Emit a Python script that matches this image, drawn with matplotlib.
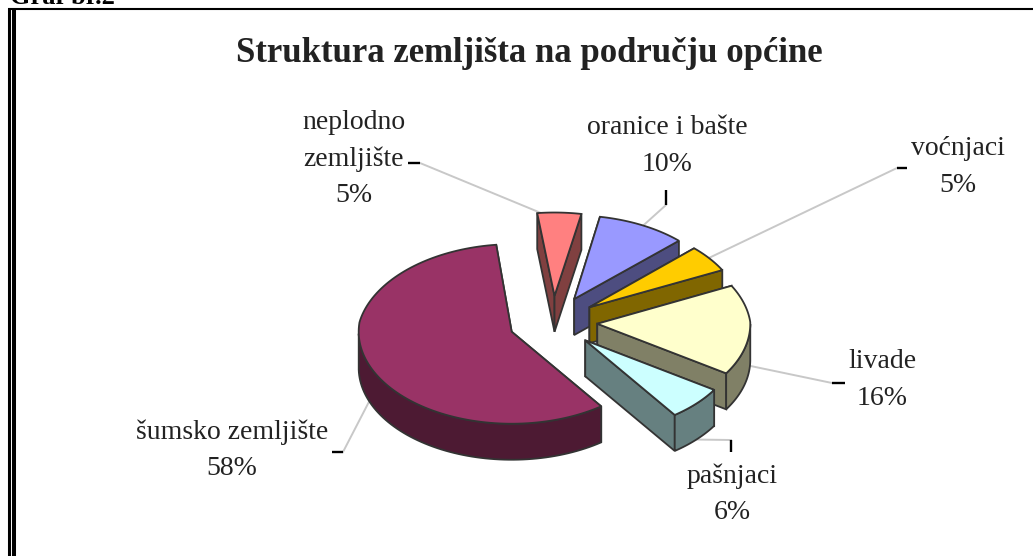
import numpy as np
import matplotlib
matplotlib.use('Agg')
import matplotlib.pyplot as plt
from matplotlib.patches import Polygon

plt.rcParams['font.family'] = ['Liberation Serif', 'DejaVu Serif']

# counter-clockwise from the start angle
labels = ['šumsko zemljište', 'pašnjaci', 'livade', 'voćnjaci', 'oranice i bašte', 'neplodno\nzemljište']
values = [58, 6, 16, 5, 10, 5]
top_colors = ['#993366', '#ccffff', '#ffffcc', '#ffcc00', '#9999ff', '#ff8080']
wall_colors = ['#4d1a33', '#668080', '#808066', '#806600', '#4d4d80', '#804040']

# label layout in pixels: centre of text, end of leader, tick direction
label_x = [232, 732, 882, 958, 667, 354]
label_y = [450, 494, 380, 167, 146, 159]
leader_x = [343, 731, 832, 897, 666, 420]
leader_y = [452, 440, 383, 168, 205, 163]
tick_dx = [-11, 0, 13, 10, 0, -12]
tick_dy = [0, 12, 0, 0, -15, 0]

CX, CY = 553, 322
RX, RY = 153, 92
DEPTH = 36
EXPLODE = 0.29
START = 97
PERSP = 0.06  # far half of the pie shrinks a little


def project(dx, dy):
    s = 1 + PERSP * np.minimum(dy, 0) / RY
    return np.column_stack([CX + s * dx, CY + s * dy])


def disc(off_x, off_y, t, r=1.0):
    return project(off_x + r * RX * np.cos(t), off_y - r * RY * np.sin(t))


fig = plt.figure(figsize=(10.33, 5.56), dpi=100)
ax = fig.add_axes([0, 0, 1, 1])
ax.set_xlim(0, 1033)
ax.set_ylim(556, 0)
ax.axis('off')

# frame of the embedded picture, open at right and bottom
ax.plot([8, 1033], [9, 9], color='black', lw=1.5, solid_capstyle='butt')
ax.plot([9, 9], [8, 556], color='black', lw=2.2, solid_capstyle='butt')
ax.plot([14, 14], [8, 556], color='black', lw=2.9, solid_capstyle='butt')

ax.text(10, 4, 'Graf br.2', fontsize=19, fontweight='bold', ha='left', va='baseline')
ax.text(529, 53, 'Struktura zemljišta na području općine', fontsize=25, fontweight='bold',
        ha='center', va='center', color='#222222')

angles = START + np.cumsum([0] + values) * 3.6
edge = '#333333'
wedges = []
for i in range(len(values)):
    a0, a1 = np.radians(angles[i]), np.radians(angles[i + 1])
    mid = (a0 + a1) / 2
    off_x = EXPLODE * RX * np.cos(mid)
    off_y = -EXPLODE * RY * np.sin(mid)
    wedges.append((a0, a1, off_x, off_y))

    # leader runs from the rim, under the wedge, out to the label
    front = np.sin(mid) < 0
    anchor = disc(off_x, off_y, np.array([mid]), 1.0 if front else 0.9)[0]
    anchor_y = anchor[1] + (DEPTH if front else 0)
    ax.plot([anchor[0], leader_x[i]], [anchor_y, leader_y[i]], color='#c8c8c8', lw=1.4, zorder=1)
    ax.plot([leader_x[i], leader_x[i] + tick_dx[i]], [leader_y[i], leader_y[i] + tick_dy[i]],
            color='black', lw=1.7, zorder=1, solid_capstyle='butt')
    ax.text(label_x[i], label_y[i], f'{labels[i]}\n{values[i]}%', fontsize=20, color='#222222',
            ha='center', va='center', linespacing=1.59, zorder=1)

# back to front: last slices sit at the back of the pie
z = 2
for i in reversed(range(len(values))):
    a0, a1, off_x, off_y = wedges[i]
    t = np.linspace(a0, a1, 120)
    rim = disc(off_x, off_y, t)
    apex = project(np.array([off_x]), np.array([off_y]))[0]
    down = np.array([0, DEPTH])
    faces = [np.array([apex, rim[0], rim[0] + down, apex + down]),
             np.array([apex, rim[-1], rim[-1] + down, apex + down])]
    faces.sort(key=lambda f: f[:, 1].mean())
    # only the near part of the rim shows a wall
    near = rim[np.sin(t) <= 0]
    if len(near) > 1:
        faces.append(np.vstack([near, (near + down)[::-1]]))
    for f in faces:
        ax.add_patch(Polygon(f, closed=True, facecolor=wall_colors[i], edgecolor=edge, lw=1.3, zorder=z))
        z += 1
    ax.add_patch(Polygon(np.vstack([apex, rim]), closed=True, facecolor=top_colors[i],
                         edgecolor=edge, lw=1.3, zorder=z))
    z += 1

fig.savefig('out.png', dpi=100)
